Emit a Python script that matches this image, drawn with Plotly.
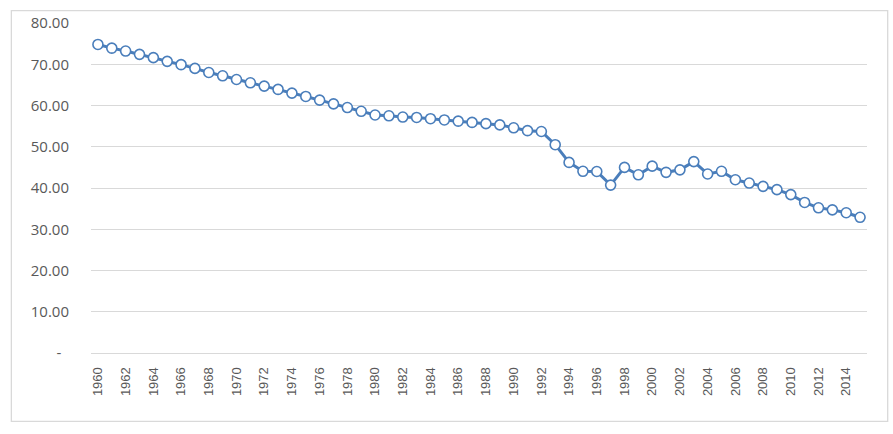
import plotly.graph_objects as go

years = list(range(1960, 2016))
values = [74.8, 73.9, 73.2, 72.4, 71.6, 70.7, 69.9, 69.0, 68.0, 67.2,
          66.3, 65.5, 64.7, 63.9, 63.0, 62.2, 61.3, 60.4, 59.5, 58.6,
          57.7, 57.5, 57.2, 57.1, 56.8, 56.5, 56.2, 55.9, 55.6, 55.3,
          54.6, 53.9, 53.7, 50.5, 46.2, 44.05, 44.0, 40.7, 45.0, 43.2,
          45.3, 43.8, 44.4, 46.4, 43.4, 44.05, 42.0, 41.2, 40.4, 39.6,
          38.4, 36.5, 35.2, 34.7, 34.0, 32.9]
y_ticks = [0, 10, 20, 30, 40, 50, 60, 70, 80]
y_ticktext = ["-\u00a0\u00a0", "10.00", "20.00", "30.00", "40.00", "50.00", "60.00", "70.00", "80.00"]
x_ticks = list(range(1960, 2016, 2))

BLUE = "#4A7EBB"
GRID = "#D9D9D9"

fig = go.Figure()
fig.add_trace(go.Scatter(
    x=years, y=values, mode="lines+markers",
    line=dict(color=BLUE, width=3),
    marker=dict(symbol="circle", size=10, color="white",
                line=dict(color=BLUE, width=1.6)),
    hoverinfo="x+y", showlegend=False,
))

L, R, T, B = 90.7, 25.7, 22.7, 81.3
W, H = 893, 434
pw, ph = W - L - R, H - T - B

def px_x(p):
    return (p - L) / pw

def px_y(p):
    return (H - B - p) / ph

fig.add_shape(type="rect", xref="paper", yref="paper",
              x0=px_x(11), x1=px_x(888), y0=px_y(421), y1=px_y(10.3),
              line=dict(color=GRID, width=1.3), fillcolor="rgba(0,0,0,0)",
              layer="below")

fig.update_layout(
    width=W, height=H,
    margin=dict(l=L, r=R, t=T, b=B, pad=0),
    paper_bgcolor="white", plot_bgcolor="white",
    xaxis=dict(
        range=[1959.5, 2015.5], tickvals=x_ticks, ticktext=[str(v) for v in x_ticks],
        tickangle=-90, showgrid=False, zeroline=False,
        showline=False, ticks="outside", ticklen=8, tickcolor="rgba(0,0,0,0)",
        tickfont=dict(family="Liberation Sans, Arial", size=13, color="#595959"),
    ),
    yaxis=dict(
        range=[0, 80], tickvals=y_ticks, ticktext=y_ticktext,
        showgrid=True, gridcolor=GRID, gridwidth=1, zeroline=True,
        zerolinecolor=GRID, zerolinewidth=1, showline=False,
        ticks="outside", ticklen=18, tickcolor="rgba(0,0,0,0)",
        tickfont=dict(family="Open Sans, Liberation Sans", size=15, color="#595959"),
    ),
)

fig.write_html("out.html")
